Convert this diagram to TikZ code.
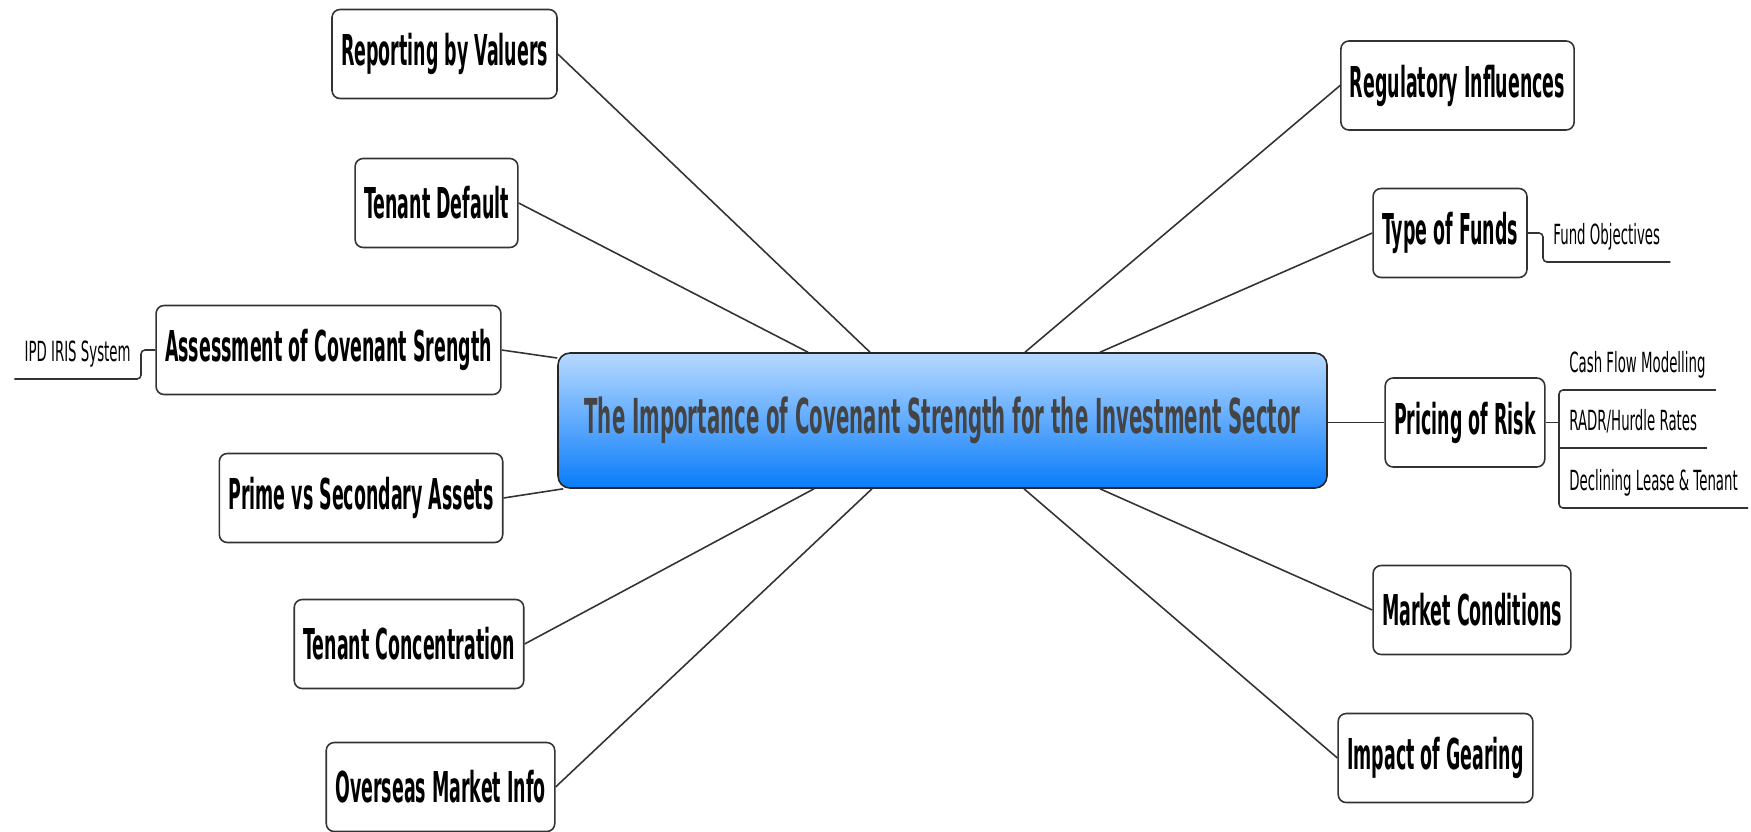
\documentclass[tikz,border=0pt]{standalone}
\usepackage{fontspec}
\setmainfont{DejaVu Sans}[FakeStretch=0.41]
\newfontfamily\leaffont{DejaVu Sans}[FakeStretch=0.48]
\usepackage{xcolor}
\usepackage{tikz}
\definecolor{hubtop}{RGB}{182,217,255}
\definecolor{hubbot}{RGB}{10,124,250}
\definecolor{hubtext}{RGB}{68,68,68}
\tikzset{
  mmhub/.style={rounded corners=0.24cm, draw=black!85, line width=0.9pt, top color=hubtop, bottom color=hubbot, minimum width=15.380cm, minimum height=2.700cm, text=hubtext, font=\bfseries\fontsize{27.4}{32}\selectfont},
  mmtopic/.style={rounded corners=0.16cm, draw=black!80, line width=0.9pt, fill=white, minimum height=1.780cm, inner xsep=0.18cm, font=\bfseries\fontsize{24.2}{29}\selectfont},
  mmleaf/.style={inner xsep=0.20cm, inner ysep=0.22cm, text height=0.44cm, text depth=0.12cm, font=\leaffont\fontsize{15.8}{19}\selectfont},
  mmline/.style={line width=0.9pt, draw=black!80},
  mmsub/.style={line width=0.9pt, draw=black!80, rounded corners=0.08cm},
}

\begin{document}
\begin{tikzpicture}
\useasboundingbox (0.000,0.000) rectangle (35.020,-16.620);

\node[mmhub] (hub) at (18.850,-8.410) {The Importance of Covenant Strength for the Investment Sector};

% left branches
\node[mmtopic] (valuers) at (8.890,-1.080) {Reporting by Valuers};
\node[mmtopic] (default) at (8.730,-4.060) {Tenant Default};
\node[mmtopic] (assess) at (6.570,-7.000) {Assessment of Covenant Srength};
\node[mmtopic] (prime) at (7.220,-9.960) {Prime vs Secondary Assets};
\node[mmtopic] (concentration) at (8.180,-12.880) {Tenant Concentration};
\node[mmtopic] (overseas) at (8.810,-15.740) {Overseas Market Info};

% right branches
\node[mmtopic] (regulatory) at (29.150,-1.710) {Regulatory Influences};
\node[mmtopic] (funds) at (29.000,-4.660) {Type of Funds};
\node[mmtopic] (pricing) at (29.300,-8.450) {Pricing of Risk};
\node[mmtopic] (market) at (29.440,-12.200) {Market Conditions};
\node[mmtopic] (gearing) at (28.710,-15.160) {Impact of Gearing};

% leaves
\node[mmleaf, anchor=south east] (iris) at (2.820,-7.580) {IPD IRIS System};
\node[mmleaf, anchor=south west] (fundobj) at (30.860,-5.240) {Fund Objectives};
\node[mmleaf, anchor=south west] (cashflow) at (31.180,-7.800) {Cash Flow Modelling};
\node[mmleaf, anchor=south west] (radr) at (31.180,-8.960) {RADR/Hurdle Rates};
\node[mmleaf, anchor=south west] (declining) at (31.180,-10.160) {Declining Lease \& Tenant};

\draw[mmline] (valuers.east) -- ([xshift=-1.450cm]hub.north);
\draw[mmline] (default.east) -- ([xshift=-2.690cm]hub.north);
\draw[mmline] (assess.east) -- ([yshift=1.250cm]hub.west);
\draw[mmline] (prime.east) -- ([xshift=0.120cm]hub.south west);
\draw[mmline] (concentration.east) -- ([xshift=-2.570cm]hub.south);
\draw[mmline] (overseas.east) -- ([xshift=-1.410cm]hub.south);
\draw[mmline] (regulatory.west) -- ([xshift=1.650cm]hub.north);
\draw[mmline] (funds.west) -- ([xshift=3.150cm]hub.north);
\draw[mmline] (pricing.west) -- (hub.east |- pricing.west);
\draw[mmline] (market.west) -- ([xshift=3.150cm]hub.south);
\draw[mmline] (gearing.west) -- ([xshift=1.630cm]hub.south);

\draw[mmsub] (assess.west) -| (iris.south east) -- (iris.south west);
\draw[mmsub] (funds.east) -| (fundobj.south west) -- (fundobj.south east);
\draw[mmsub] (cashflow.south east) -- (cashflow.south west) -- (declining.south west) -- (declining.south east);
\draw[mmsub] (pricing.east) -- (pricing.east -| radr.south west);
\draw[mmsub] (radr.south west) -- (radr.south east);
\end{tikzpicture}
\end{document}
